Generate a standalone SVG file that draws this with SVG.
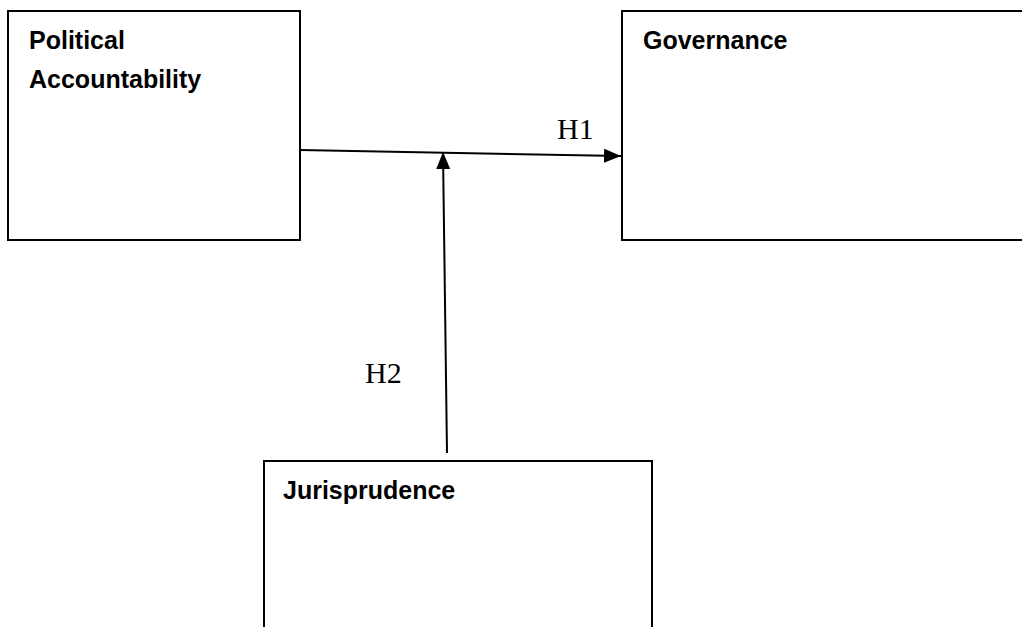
<svg xmlns="http://www.w3.org/2000/svg" width="1022" height="627" viewBox="0 0 1022 627">
<style>
.box{fill:#fff;stroke:#000;stroke-width:2}
.lbl{font-family:"Liberation Sans",Arial,sans-serif;font-weight:bold;font-size:25px;fill:#000}
.h{font-family:"Liberation Serif","Times New Roman",serif;font-size:30px;fill:#000}
.conn{stroke:#000;stroke-width:2;fill:none}
</style>
<defs>
<marker id="arrL" markerWidth="17" markerHeight="14" refX="17" refY="7" orient="auto" markerUnits="userSpaceOnUse">
<path d="M0,0 L17,7 L0,14 Z" fill="#000"/>
</marker>
</defs>
<g id="node-political">
<rect class="box" x="8" y="11" width="292" height="229"/>
<text class="lbl" x="29" y="49">Political</text>
<text class="lbl" x="29" y="88">Accountability</text>
</g>
<g id="node-governance">
<rect class="box" x="622" y="11" width="410" height="229"/>
<text class="lbl" x="643" y="49">Governance</text>
</g>
<g id="node-jurisprudence">
<rect class="box" x="264" y="461" width="388" height="180"/>
<text class="lbl" x="283" y="499">Jurisprudence</text>
</g>
<g id="connectors">
<line class="conn" x1="300" y1="150" x2="621" y2="156" marker-end="url(#arrL)"/>
<line class="conn" x1="447" y1="453" x2="443" y2="152" marker-end="url(#arrL)"/>
<text class="h" x="557" y="139">H1</text>
<text class="h" x="365" y="383">H2</text>
</g>
</svg>
